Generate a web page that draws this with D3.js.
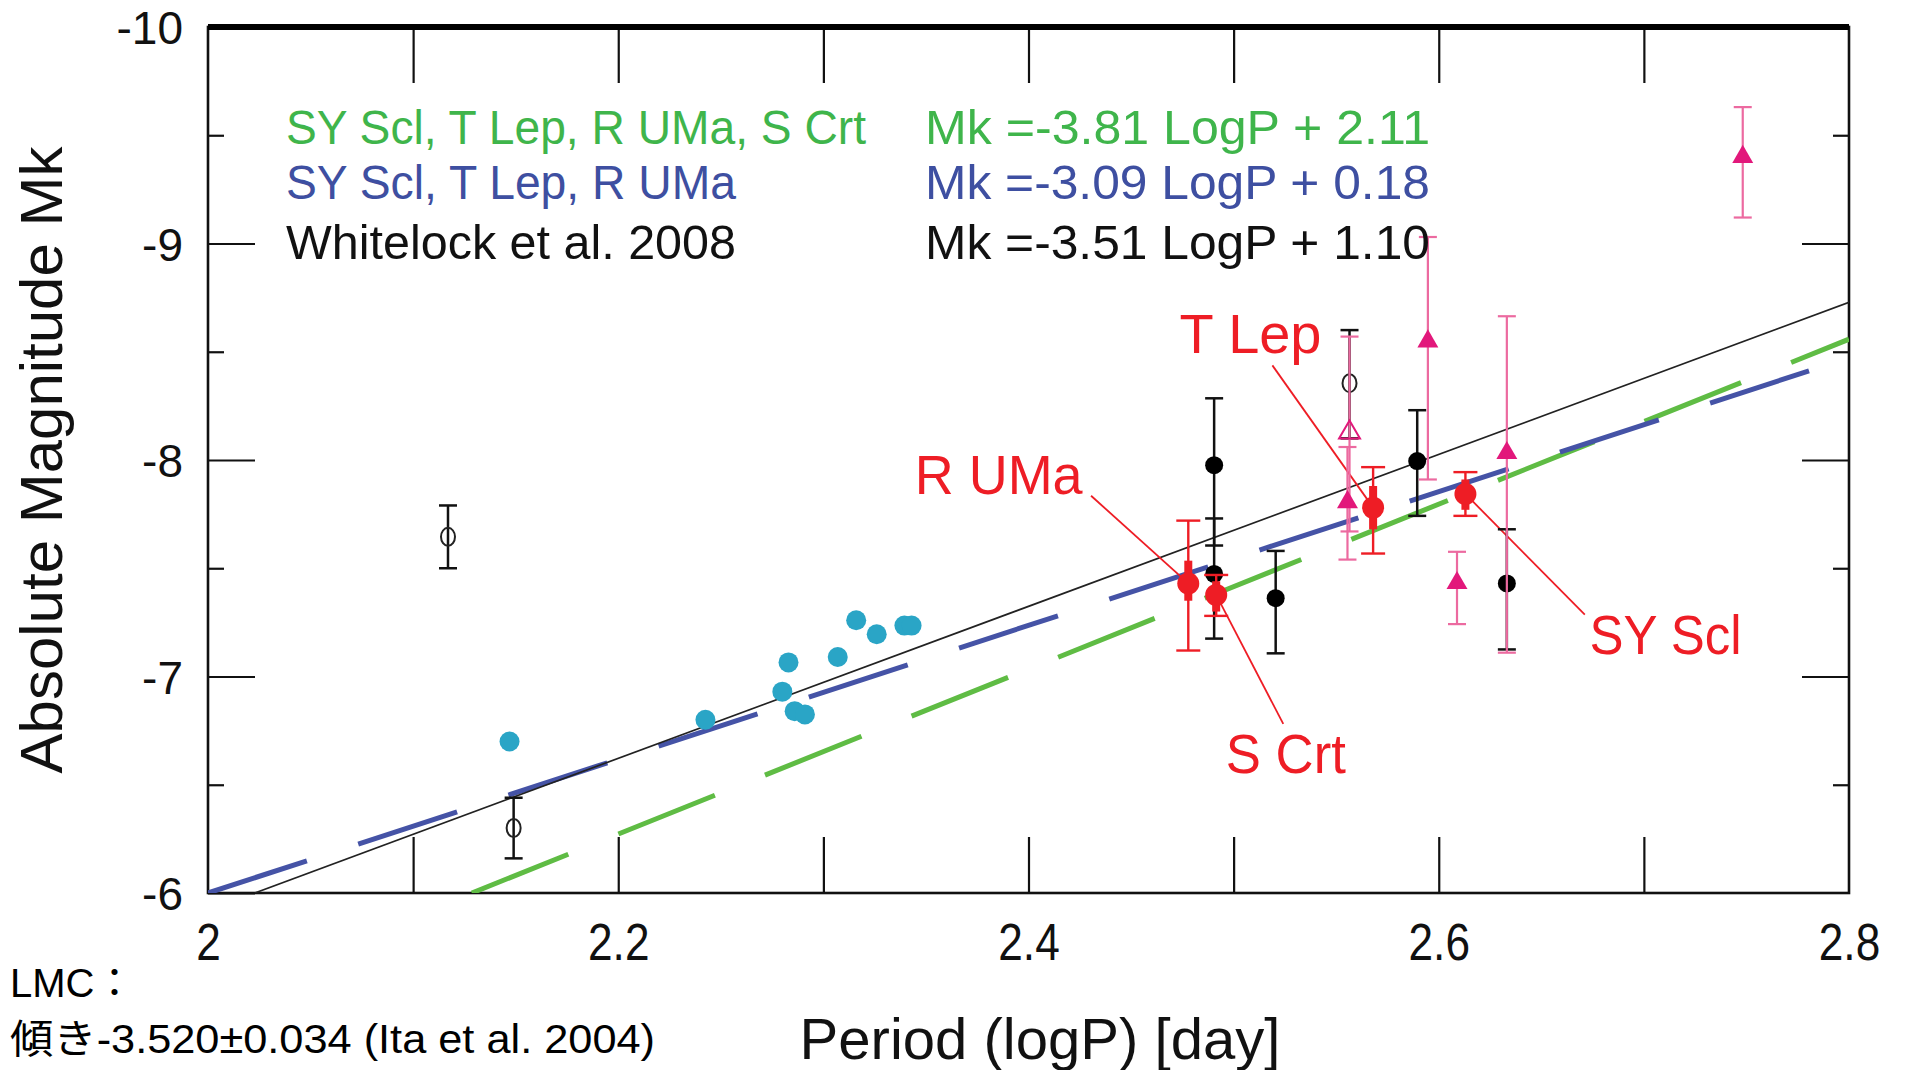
<!DOCTYPE html>
<html>
<head>
<meta charset="utf-8">
<title>Period - Luminosity relation</title>
<script src="https://cdn.jsdelivr.net/npm/d3@7"></script>
<style>
body { margin: 0; background: #fff; }
text { font-family: "Liberation Sans", Arial, "Noto Sans CJK JP", sans-serif; }
</style>
</head>
<body>
<script>
// ---- data ----
var xTickValues = [2, 2.2, 2.4, 2.6, 2.8];
var xTickLabels = ["2", "2.2", "2.4", "2.6", "2.8"];
var xMinorValues = [2.1, 2.2, 2.3, 2.4, 2.5, 2.6, 2.7];
var yTickValues = [-10, -9, -8, -7, -6];
var yTickLabels = ["-10", "-9", "-8", "-7", "-6"];
var yMinorValues = [-9.5, -8.5, -7.5, -6.5];

// fits: green, blue, black
var fitNames = ["SY Scl, T Lep, R UMa, S Crt", "SY Scl, T Lep, R UMa", "Whitelock et al. 2008"];
var fitSlopes = [-3.81, -3.09, -3.51];
var fitIntercepts = [2.11, 0.18, 1.10];

// cyan filled points [logP, Mk]
var cyanPts = [[2.147, -6.70], [2.2425, -6.80], [2.280, -6.93], [2.283, -7.065], [2.286, -6.84],
  [2.291, -6.825], [2.307, -7.09], [2.316, -7.26], [2.326, -7.195], [2.3395, -7.235], [2.343, -7.235]];

// black open circles [logP, Mk, errLo, errHi]
var openBlack = [[2.117, -7.645, -7.79, -7.50], [2.149, -6.30, -6.44, -6.16], [2.5565, -8.355, -8.60, -8.10]];
// black filled points
var filledBlack = [[2.4905, -7.976, -8.285, -7.605], [2.4905, -7.474, -7.73, -7.175], [2.5205, -7.362, -7.58, -7.107],
  [2.5895, -7.995, -8.23, -7.742], [2.6332, -7.43, -7.68, -7.125]];
// magenta triangles
var pinkFilled = [[2.7482, -9.40, -9.63, -9.12], [2.5947, -8.548, -9.03, -7.91], [2.6089, -7.432, -7.576, -7.242],
  [2.6332, -8.032, -8.664, -7.11], [2.5555, -7.805, -8.06, -7.54]];
var pinkOpen = [[2.5565, -8.127, -8.57, -7.67]];

// red stars [logP, Mk, errLo, errHi, innerLo, innerHi]
var redNames = ["R UMa", "S Crt", "T Lep", "SY Scl"];
var redPts = [[2.4779, -7.43, -7.72, -7.12, -7.535, -7.35], [2.4915, -7.377, -7.469, -7.28, -7.44, -7.30],
  [2.568, -7.78, -7.967, -7.568, -7.88, -7.68], [2.613, -7.843, -7.944, -7.742, -7.91, -7.77]];
// label anchor [logP, Mk] and leader start [logP, Mk]
var redLabelPos = [[2.3445, -7.845], [2.4962, -6.552], [2.4736, -8.493], [2.6735, -7.103]];
var redLeaderFrom = [[2.4305, -7.835], [2.5242, -6.781], [2.5189, -8.437], [2.6712, -7.286]];

var noteLines = ["LMC：", "傾き-3.520±0.034 (Ita et al. 2004)"];

// ---- layout ----
var w = 1908, h = 1070;
var margin = {left: 208, right: 59, top: 27, bottom: 177};
var width = w - margin.left - margin.right;
var height = h - margin.top - margin.bottom;

var fitColors = ["#5fbc44", "#4553a6", "#222"];
var legendColors = ["#3fb54b", "#3e4fa1", "#111"];
var red = "#ee1d25", magenta = "#e2187b", pinkBar = "#ec6aa0", cyan = "#2aa5c6";

var svg = d3.select("body").append("svg").attr("width", w).attr("height", h);
svg.append("rect").attr("width", w).attr("height", h).attr("fill", "#fff");
var g = svg.append("g").attr("transform", "translate(" + margin.left + "," + margin.top + ")");

var x = d3.scaleLinear().domain([2, 2.8]).range([0, width]);
var y = d3.scaleLinear().domain([-10, -6]).range([0, height]);

// ticks (all inward)
var xb = g.append("g").attr("transform", "translate(0," + height + ")")
  .call(d3.axisBottom(x).tickValues(xTickValues).tickSizeInner(0).tickSizeOuter(0).tickPadding(30)
    .tickFormat(function(d, i) { return xTickLabels[i]; }));
xb.selectAll("text").attr("font-size", 52).attr("fill", "#111").attr("transform", "scale(0.85,1)");
g.append("g").attr("transform", "translate(0," + height + ")")
  .call(d3.axisBottom(x).tickValues(xMinorValues).tickSizeInner(-56).tickSizeOuter(0).tickFormat(""));
g.append("g").call(d3.axisTop(x).tickValues(xMinorValues).tickSizeInner(-56).tickSizeOuter(0).tickFormat(""));

var yl = g.append("g")
  .call(d3.axisLeft(y).tickValues(yTickValues).tickSizeInner(-47).tickSizeOuter(0).tickPadding(0)
    .tickFormat(function(d, i) { return yTickLabels[i]; }));
yl.selectAll("text").attr("x", null).attr("font-size", 46).attr("dy", "0.36em").attr("fill", "#111")
  .attr("transform", "translate(-25,0)");
g.append("g").call(d3.axisLeft(y).tickValues(yMinorValues).tickSizeInner(-16).tickSizeOuter(0).tickFormat(""));
g.append("g").attr("transform", "translate(" + width + ",0)")
  .call(d3.axisRight(y).tickValues(yTickValues.slice(1, 4)).tickSizeInner(-47).tickSizeOuter(0).tickFormat(""));
g.append("g").attr("transform", "translate(" + width + ",0)")
  .call(d3.axisRight(y).tickValues(yMinorValues).tickSizeInner(-16).tickSizeOuter(0).tickFormat(""));
g.selectAll(".domain").remove();
g.selectAll(".tick line").attr("stroke", "#111").attr("stroke-width", 2.2);

// frame
g.append("rect").attr("width", width).attr("height", height)
  .attr("fill", "none").attr("stroke", "#111").attr("stroke-width", 2.6);
g.append("line").attr("x1", 0).attr("x2", width).attr("y1", 0).attr("y2", 0)
  .attr("stroke", "#000").attr("stroke-width", 6);

// fit lines
var clip = svg.append("clipPath").attr("id", "plotclip");
clip.append("rect").attr("width", width).attr("height", height);
var plot = g.append("g").attr("clip-path", "url(#plotclip)");
var line = d3.line().x(function(d) { return x(d[0]); }).y(function(d) { return y(d[1]); });
[0, 1, 2].forEach(function(i) {
  var s = fitSlopes[i], b = fitIntercepts[i];
  var x0 = Math.max(2, (-6 - b) / s);
  var pts = [[x0, s * x0 + b], [2.8, s * 2.8 + b]];
  var p = plot.append("path").attr("d", line(pts)).attr("fill", "none")
    .attr("stroke", fitColors[i]);
  if (i < 2) p.attr("stroke-width", 5).attr("stroke-dasharray", "104,54");
  else p.attr("stroke-width", 1.7);
});

// error bar helper
function errBars(sel, data, color, cap, sw) {
  var eb = sel.selectAll(null).data(data).enter().append("g").attr("stroke", color).attr("stroke-width", sw);
  eb.append("line").attr("x1", function(d) { return x(d[0]); }).attr("x2", function(d) { return x(d[0]); })
    .attr("y1", function(d) { return y(d[2]); }).attr("y2", function(d) { return y(d[3]); });
  [2, 3].forEach(function(k) {
    eb.append("line").attr("x1", function(d) { return x(d[0]) - cap / 2; }).attr("x2", function(d) { return x(d[0]) + cap / 2; })
      .attr("y1", function(d) { return y(d[k]); }).attr("y2", function(d) { return y(d[k]); });
  });
}

// red leader lines
plot.selectAll(null).data(redPts).enter().append("line")
  .attr("x1", function(d, i) { return x(redLeaderFrom[i][0]); })
  .attr("y1", function(d, i) { return y(redLeaderFrom[i][1]); })
  .attr("x2", function(d) { return x(d[0]); }).attr("y2", function(d) { return y(d[1]); })
  .attr("stroke", red).attr("stroke-width", 1.8);

// cyan points
plot.selectAll(null).data(cyanPts).enter().append("circle")
  .attr("cx", function(d) { return x(d[0]); }).attr("cy", function(d) { return y(d[1]); })
  .attr("r", 10).attr("fill", cyan);

// black
errBars(plot, openBlack, "#111", 18, 2.5);
errBars(plot, filledBlack, "#111", 18, 2.5);
plot.selectAll(null).data(openBlack).enter().append("ellipse")
  .attr("cx", function(d) { return x(d[0]); }).attr("cy", function(d) { return y(d[1]); })
  .attr("rx", 7).attr("ry", 9).attr("fill", "none").attr("stroke", "#222").attr("stroke-width", 2);
plot.selectAll(null).data(filledBlack).enter().append("circle")
  .attr("cx", function(d) { return x(d[0]); }).attr("cy", function(d) { return y(d[1]); })
  .attr("r", 9).attr("fill", "#000");

// magenta
errBars(plot, pinkFilled, pinkBar, 18, 2.2);
errBars(plot, pinkOpen, pinkBar, 18, 2.2);
var tri = d3.symbol().type(d3.symbolTriangle).size(190);
plot.selectAll(null).data(pinkFilled).enter().append("path").attr("d", tri)
  .attr("transform", function(d) { return "translate(" + x(d[0]) + "," + y(d[1]) + ")"; })
  .attr("fill", magenta);
plot.selectAll(null).data(pinkOpen).enter().append("path").attr("d", tri)
  .attr("transform", function(d) { return "translate(" + x(d[0]) + "," + y(d[1]) + ")"; })
  .attr("fill", "none").attr("stroke", magenta).attr("stroke-width", 2);

// red
errBars(plot, redPts, red, 24, 2.4);
plot.selectAll(null).data(redPts).enter().append("line")
  .attr("x1", function(d) { return x(d[0]); }).attr("x2", function(d) { return x(d[0]); })
  .attr("y1", function(d) { return y(d[4]); }).attr("y2", function(d) { return y(d[5]); })
  .attr("stroke", red).attr("stroke-width", 8);
plot.selectAll(null).data(redPts).enter().append("circle")
  .attr("cx", function(d) { return x(d[0]); }).attr("cy", function(d) { return y(d[1]); })
  .attr("r", 11).attr("fill", red);

// red labels
var labelLen = [168, 120, 142, 152];
g.selectAll(null).data(redNames).enter().append("text")
  .attr("x", function(d, i) { return x(redLabelPos[i][0]); })
  .attr("y", function(d, i) { return y(redLabelPos[i][1]); })
  .attr("font-size", 56).attr("fill", red)
  .attr("textLength", function(d, i) { return labelLen[i]; }).attr("lengthAdjust", "spacingAndGlyphs")
  .text(function(d) { return d; });

// legend text
var legY = [143.5, 198.5, 259];
var legLen = [580, 450, 450];
fitNames.forEach(function(name, i) {
  svg.append("text").attr("x", 286).attr("y", legY[i]).attr("font-size", 48).attr("fill", legendColors[i])
    .attr("textLength", legLen[i]).attr("lengthAdjust", "spacingAndGlyphs").text(name);
  svg.append("text").attr("x", 925).attr("y", legY[i]).attr("font-size", 48).attr("fill", legendColors[i])
    .attr("textLength", 505).attr("lengthAdjust", "spacingAndGlyphs")
    .text("Mk =" + fitSlopes[i].toFixed(2) + " LogP + " + fitIntercepts[i].toFixed(2));
});

// axis titles
svg.append("text").attr("transform", "translate(62," + (margin.top + height / 2) + ") rotate(-90)")
  .attr("text-anchor", "middle").attr("font-size", 60).attr("fill", "#111").text("Absolute Magnitude Mk");
svg.append("text").attr("x", 1040).attr("y", 1059).attr("text-anchor", "middle").attr("font-size", 58)
  .attr("fill", "#111").attr("textLength", 481).attr("lengthAdjust", "spacingAndGlyphs").text("Period (logP) [day]");

// note
svg.append("text").attr("x", 10).attr("y", 997).attr("font-size", 40).attr("fill", "#000").text(noteLines[0]);
svg.append("text").attr("x", 10).attr("y", 1053).attr("font-size", 40).attr("fill", "#000")
  .attr("textLength", 645).attr("lengthAdjust", "spacingAndGlyphs").text(noteLines[1]);
</script>
</body>
</html>
